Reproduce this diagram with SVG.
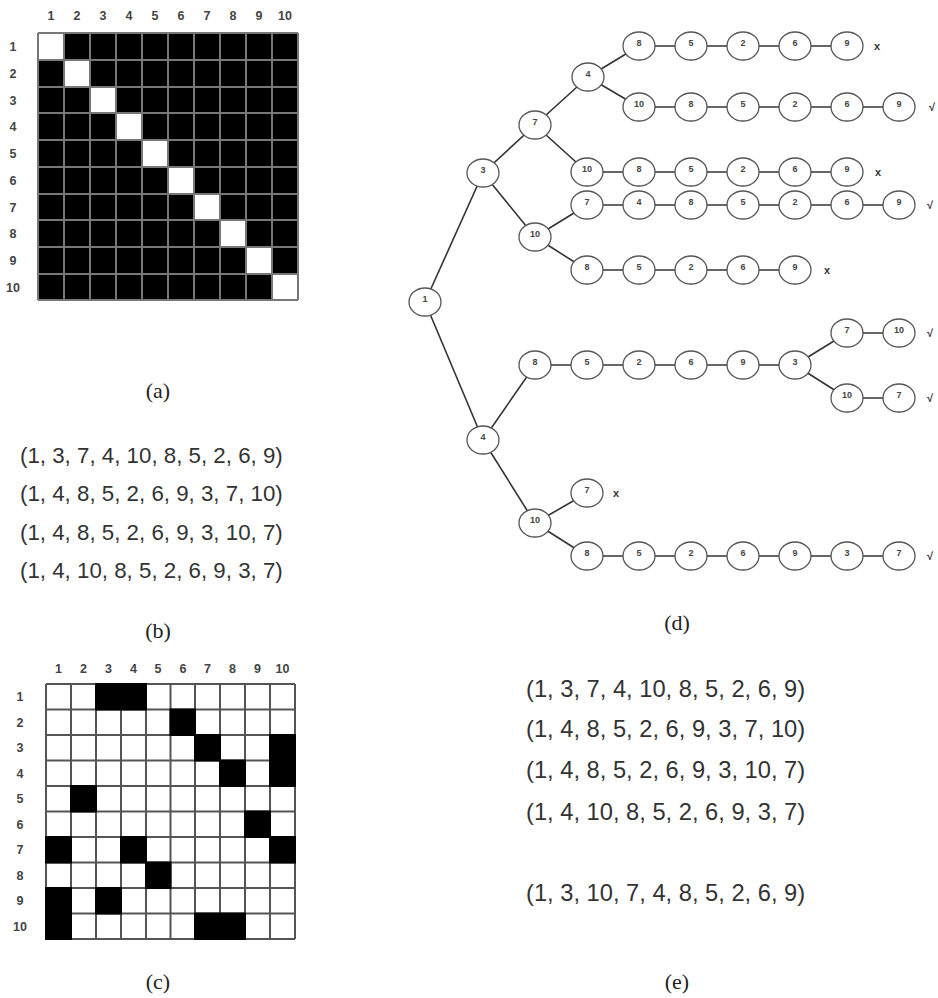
<svg xmlns="http://www.w3.org/2000/svg" width="938" height="998" viewBox="0 0 938 998">
<style>
.lbl{font-family:"Liberation Sans",Arial,sans-serif;font-weight:bold;font-size:12.5px;fill:#444;text-anchor:middle}
.grid{stroke:#777;stroke-width:2;fill:none}
.gridc{stroke:#555;stroke-width:2;fill:none}
.cap{font-family:"Liberation Serif","Times New Roman",serif;font-size:22px;fill:#222;text-anchor:middle}
.seq{font-family:"Liberation Sans",Arial,sans-serif;fill:#333}
.node ellipse{fill:#fff;stroke:#555;stroke-width:1.3}
.node text{font-family:"Liberation Sans",Arial,sans-serif;font-weight:bold;font-size:9px;fill:#444;text-anchor:middle}
.edge{stroke:#333;stroke-width:1.6}
.mark{font-family:"Liberation Sans",Arial,sans-serif;font-weight:bold;font-size:11px;fill:#333;text-anchor:middle}
</style>

<!-- Matrix (a) -->
<g id="matrix-a">
<rect x="38" y="33" width="260" height="267" fill="#000"/>
<g fill="#fff">
<rect x="38" y="33" width="26" height="27"/>
<rect x="64" y="60" width="26" height="27"/>
<rect x="90" y="87" width="26" height="26"/>
<rect x="116" y="113" width="26" height="27"/>
<rect x="142" y="140" width="26" height="27"/>
<rect x="168" y="167" width="26" height="27"/>
<rect x="194" y="194" width="26" height="26"/>
<rect x="220" y="220" width="26" height="27"/>
<rect x="246" y="247" width="26" height="27"/>
<rect x="272" y="274" width="26" height="26"/>
</g>
<path class="grid" d="M38 33V300M64 33V300M90 33V300M116 33V300M142 33V300M168 33V300M194 33V300M220 33V300M246 33V300M272 33V300M298 33V300M38 33H298M38 60H298M38 87H298M38 113H298M38 140H298M38 167H298M38 194H298M38 220H298M38 247H298M38 274H298M38 300H298"/>
<g class="lbl">
<text x="51" y="19.5">1</text><text x="77" y="19.5">2</text><text x="103" y="19.5">3</text><text x="129" y="19.5">4</text><text x="155" y="19.5">5</text><text x="181" y="19.5">6</text><text x="207" y="19.5">7</text><text x="233" y="19.5">8</text><text x="259" y="19.5">9</text><text x="285" y="19.5">10</text>
<text x="13" y="51">1</text><text x="13" y="78">2</text><text x="13" y="104.5">3</text><text x="13" y="131">4</text><text x="13" y="158">5</text><text x="13" y="185">6</text><text x="13" y="211.5">7</text><text x="13" y="238">8</text><text x="13" y="265">9</text><text x="13" y="291.5">10</text>
</g>
</g>
<text class="cap" x="158" y="398">(a)</text>

<!-- List (b) -->
<g id="list-b" class="seq" font-size="22.3">
<text x="20" y="463">(1, 3, 7, 4, 10, 8, 5, 2, 6, 9)</text>
<text x="20" y="501">(1, 4, 8, 5, 2, 6, 9, 3, 7, 10)</text>
<text x="20" y="540">(1, 4, 8, 5, 2, 6, 9, 3, 10, 7)</text>
<text x="20" y="578">(1, 4, 10, 8, 5, 2, 6, 9, 3, 7)</text>
</g>
<text class="cap" x="158" y="638">(b)</text>

<!-- Matrix (c) -->
<g id="matrix-c">
<rect x="46" y="684" width="249" height="255" fill="#fff"/>
<path class="gridc" d="M46 684V939M71 684V939M96 684V939M121 684V939M146 684V939M170.5 684V939M195 684V939M220 684V939M245 684V939M270 684V939M295 684V939M46 684H295M46 709.5H295M46 735H295M46 760.5H295M46 786H295M46 811.5H295M46 837H295M46 862.5H295M46 888H295M46 913.5H295M46 939H295"/>
<g fill="#000">
<rect x="95" y="683" width="52" height="27.5"/>
<rect x="169.5" y="708.5" width="26.5" height="27.5"/>
<rect x="194" y="734" width="27" height="27.5"/>
<rect x="269" y="734" width="27" height="53"/>
<rect x="219" y="759.5" width="27" height="27.5"/>
<rect x="70" y="785" width="27" height="27.5"/>
<rect x="244" y="810.5" width="27" height="27.5"/>
<rect x="45" y="836" width="27" height="27.5"/>
<rect x="120" y="836" width="27" height="27.5"/>
<rect x="269" y="836" width="27" height="27.5"/>
<rect x="145" y="861.5" width="26.5" height="27.5"/>
<rect x="45" y="887" width="27" height="53"/>
<rect x="95" y="887" width="27" height="27.5"/>
<rect x="194" y="912.5" width="52" height="27.5"/>
</g>
<g class="lbl" font-size="12">
<text x="58.5" y="672.5">1</text><text x="83.5" y="672.5">2</text><text x="108.5" y="672.5">3</text><text x="133.5" y="672.5">4</text><text x="158" y="672.5">5</text><text x="183" y="672.5">6</text><text x="207.5" y="672.5">7</text><text x="232.5" y="672.5">8</text><text x="257.5" y="672.5">9</text><text x="282.5" y="672.5">10</text>
<text x="20" y="701">1</text><text x="20" y="726.5">2</text><text x="20" y="752">3</text><text x="20" y="777.5">4</text><text x="20" y="803">5</text><text x="20" y="828.5">6</text><text x="20" y="854">7</text><text x="20" y="879.5">8</text><text x="20" y="905">9</text><text x="20" y="930.5">10</text>
</g>
</g>
<text class="cap" x="158" y="989">(c)</text>

<!-- Tree (d) connectors -->
<g id="connectors" class="edge">
<line x1="425" y1="302" x2="483" y2="173"/>
<line x1="425" y1="302" x2="483" y2="440"/>
<line x1="483" y1="173" x2="535" y2="125"/>
<line x1="483" y1="173" x2="535" y2="237"/>
<line x1="535" y1="125" x2="588" y2="77"/>
<line x1="535" y1="125" x2="587" y2="172"/>
<line x1="588" y1="77" x2="639" y2="46"/>
<line x1="588" y1="77" x2="639" y2="107"/>
<line x1="639" y1="46" x2="847" y2="46"/>
<line x1="639" y1="107" x2="899" y2="107"/>
<line x1="587" y1="172" x2="847" y2="172"/>
<line x1="535" y1="237" x2="587" y2="205"/>
<line x1="535" y1="237" x2="587" y2="270"/>
<line x1="587" y1="205" x2="899" y2="205"/>
<line x1="587" y1="270" x2="795" y2="270"/>
<line x1="483" y1="440" x2="535" y2="365"/>
<line x1="483" y1="440" x2="535" y2="523"/>
<line x1="535" y1="365" x2="795" y2="365"/>
<line x1="795" y1="365" x2="847" y2="333"/>
<line x1="795" y1="365" x2="847" y2="398"/>
<line x1="847" y1="333" x2="899" y2="333"/>
<line x1="847" y1="398" x2="899" y2="398"/>
<line x1="535" y1="523" x2="587" y2="493"/>
<line x1="535" y1="523" x2="587" y2="556"/>
<line x1="587" y1="556" x2="899" y2="556"/>
</g>

<!-- Tree (d) nodes -->
<g id="tree-nodes">
<g id="n1" class="node"><ellipse cx="425" cy="302" rx="16" ry="14"/><text x="425" y="302">1</text></g>
<g id="n3" class="node"><ellipse cx="483" cy="173" rx="16" ry="14"/><text x="483" y="173">3</text></g>
<g id="n3-7" class="node"><ellipse cx="535" cy="125" rx="16" ry="14"/><text x="535" y="125">7</text></g>
<g id="n3-7-4" class="node"><ellipse cx="588" cy="77" rx="16" ry="14"/><text x="588" y="77">4</text></g>
<g id="r1-8" class="node"><ellipse cx="639" cy="46" rx="16" ry="14"/><text x="639" y="46">8</text></g>
<g id="r1-5" class="node"><ellipse cx="691" cy="46" rx="16" ry="14"/><text x="691" y="46">5</text></g>
<g id="r1-2" class="node"><ellipse cx="743" cy="46" rx="16" ry="14"/><text x="743" y="46">2</text></g>
<g id="r1-6" class="node"><ellipse cx="795" cy="46" rx="16" ry="14"/><text x="795" y="46">6</text></g>
<g id="r1-9" class="node"><ellipse cx="847" cy="46" rx="16" ry="14"/><text x="847" y="46">9</text></g>
<g id="r2-10" class="node"><ellipse cx="639" cy="107" rx="16" ry="14"/><text x="639" y="107">10</text></g>
<g id="r2-8" class="node"><ellipse cx="691" cy="107" rx="16" ry="14"/><text x="691" y="107">8</text></g>
<g id="r2-5" class="node"><ellipse cx="743" cy="107" rx="16" ry="14"/><text x="743" y="107">5</text></g>
<g id="r2-2" class="node"><ellipse cx="795" cy="107" rx="16" ry="14"/><text x="795" y="107">2</text></g>
<g id="r2-6" class="node"><ellipse cx="847" cy="107" rx="16" ry="14"/><text x="847" y="107">6</text></g>
<g id="r2-9" class="node"><ellipse cx="899" cy="107" rx="16" ry="14"/><text x="899" y="107">9</text></g>
<g id="r3-10" class="node"><ellipse cx="587" cy="172" rx="16" ry="14"/><text x="587" y="172">10</text></g>
<g id="r3-8" class="node"><ellipse cx="639" cy="172" rx="16" ry="14"/><text x="639" y="172">8</text></g>
<g id="r3-5" class="node"><ellipse cx="691" cy="172" rx="16" ry="14"/><text x="691" y="172">5</text></g>
<g id="r3-2" class="node"><ellipse cx="743" cy="172" rx="16" ry="14"/><text x="743" y="172">2</text></g>
<g id="r3-6" class="node"><ellipse cx="795" cy="172" rx="16" ry="14"/><text x="795" y="172">6</text></g>
<g id="r3-9" class="node"><ellipse cx="847" cy="172" rx="16" ry="14"/><text x="847" y="172">9</text></g>
<g id="n3-10" class="node"><ellipse cx="535" cy="237" rx="16" ry="14"/><text x="535" y="237">10</text></g>
<g id="r4-7" class="node"><ellipse cx="587" cy="205" rx="16" ry="14"/><text x="587" y="205">7</text></g>
<g id="r4-4" class="node"><ellipse cx="639" cy="205" rx="16" ry="14"/><text x="639" y="205">4</text></g>
<g id="r4-8" class="node"><ellipse cx="691" cy="205" rx="16" ry="14"/><text x="691" y="205">8</text></g>
<g id="r4-5" class="node"><ellipse cx="743" cy="205" rx="16" ry="14"/><text x="743" y="205">5</text></g>
<g id="r4-2" class="node"><ellipse cx="795" cy="205" rx="16" ry="14"/><text x="795" y="205">2</text></g>
<g id="r4-6" class="node"><ellipse cx="847" cy="205" rx="16" ry="14"/><text x="847" y="205">6</text></g>
<g id="r4-9" class="node"><ellipse cx="899" cy="205" rx="16" ry="14"/><text x="899" y="205">9</text></g>
<g id="r5-8" class="node"><ellipse cx="587" cy="270" rx="16" ry="14"/><text x="587" y="270">8</text></g>
<g id="r5-5" class="node"><ellipse cx="639" cy="270" rx="16" ry="14"/><text x="639" y="270">5</text></g>
<g id="r5-2" class="node"><ellipse cx="691" cy="270" rx="16" ry="14"/><text x="691" y="270">2</text></g>
<g id="r5-6" class="node"><ellipse cx="743" cy="270" rx="16" ry="14"/><text x="743" y="270">6</text></g>
<g id="r5-9" class="node"><ellipse cx="795" cy="270" rx="16" ry="14"/><text x="795" y="270">9</text></g>
<g id="n4" class="node"><ellipse cx="483" cy="440" rx="16" ry="14"/><text x="483" y="440">4</text></g>
<g id="r6-8" class="node"><ellipse cx="535" cy="365" rx="16" ry="14"/><text x="535" y="365">8</text></g>
<g id="r6-5" class="node"><ellipse cx="587" cy="365" rx="16" ry="14"/><text x="587" y="365">5</text></g>
<g id="r6-2" class="node"><ellipse cx="639" cy="365" rx="16" ry="14"/><text x="639" y="365">2</text></g>
<g id="r6-6" class="node"><ellipse cx="691" cy="365" rx="16" ry="14"/><text x="691" y="365">6</text></g>
<g id="r6-9" class="node"><ellipse cx="743" cy="365" rx="16" ry="14"/><text x="743" y="365">9</text></g>
<g id="r6-3" class="node"><ellipse cx="795" cy="365" rx="16" ry="14"/><text x="795" y="365">3</text></g>
<g id="s1-7" class="node"><ellipse cx="847" cy="333" rx="16" ry="14"/><text x="847" y="333">7</text></g>
<g id="s1-10" class="node"><ellipse cx="899" cy="333" rx="16" ry="14"/><text x="899" y="333">10</text></g>
<g id="s2-10" class="node"><ellipse cx="847" cy="398" rx="16" ry="14"/><text x="847" y="398">10</text></g>
<g id="s2-7" class="node"><ellipse cx="899" cy="398" rx="16" ry="14"/><text x="899" y="398">7</text></g>
<g id="n4-10" class="node"><ellipse cx="535" cy="523" rx="16" ry="14"/><text x="535" y="523">10</text></g>
<g id="n4-10-7" class="node"><ellipse cx="587" cy="493" rx="16" ry="14"/><text x="587" y="493">7</text></g>
<g id="r7-8" class="node"><ellipse cx="587" cy="556" rx="16" ry="14"/><text x="587" y="556">8</text></g>
<g id="r7-5" class="node"><ellipse cx="639" cy="556" rx="16" ry="14"/><text x="639" y="556">5</text></g>
<g id="r7-2" class="node"><ellipse cx="691" cy="556" rx="16" ry="14"/><text x="691" y="556">2</text></g>
<g id="r7-6" class="node"><ellipse cx="743" cy="556" rx="16" ry="14"/><text x="743" y="556">6</text></g>
<g id="r7-9" class="node"><ellipse cx="795" cy="556" rx="16" ry="14"/><text x="795" y="556">9</text></g>
<g id="r7-3" class="node"><ellipse cx="847" cy="556" rx="16" ry="14"/><text x="847" y="556">3</text></g>
<g id="r7-7" class="node"><ellipse cx="899" cy="556" rx="16" ry="14"/><text x="899" y="556">7</text></g>
</g>

<!-- result marks -->
<g id="marks" class="mark">
<text x="877" y="50">x</text>
<text x="932" y="111">√</text>
<text x="878" y="176">x</text>
<text x="930" y="209">√</text>
<text x="827" y="274">x</text>
<text x="930" y="337">√</text>
<text x="930" y="402">√</text>
<text x="616" y="497">x</text>
<text x="930" y="560">√</text>
</g>
<text class="cap" x="677" y="630">(d)</text>

<!-- List (e) -->
<g id="list-e" class="seq" font-size="23.7">
<text x="526" y="697">(1, 3, 7, 4, 10, 8, 5, 2, 6, 9)</text>
<text x="526" y="737">(1, 4, 8, 5, 2, 6, 9, 3, 7, 10)</text>
<text x="526" y="778">(1, 4, 8, 5, 2, 6, 9, 3, 10, 7)</text>
<text x="526" y="820">(1, 4, 10, 8, 5, 2, 6, 9, 3, 7)</text>
<text x="526" y="901">(1, 3, 10, 7, 4, 8, 5, 2, 6, 9)</text>
</g>
<text class="cap" x="677" y="989">(e)</text>
</svg>
